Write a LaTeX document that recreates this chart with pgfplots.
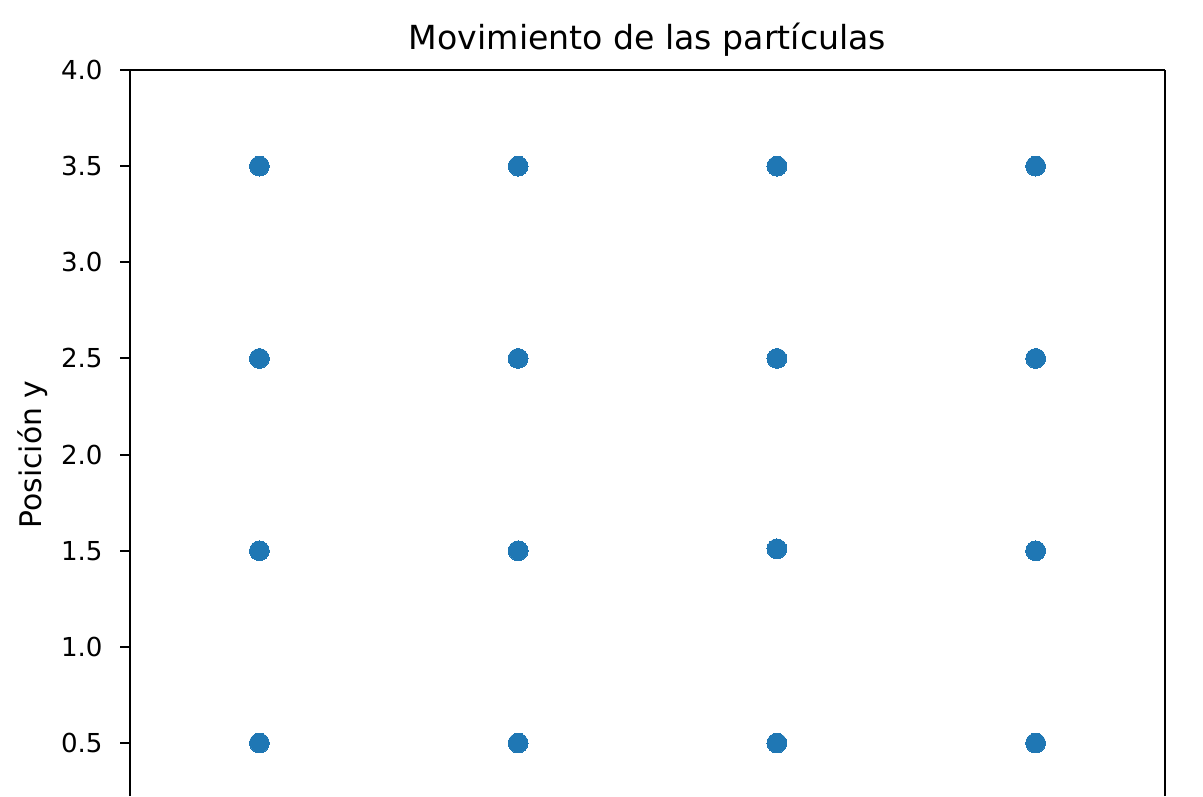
\documentclass[border=0pt]{standalone}
\usepackage{fontspec}
\setmainfont{DejaVu Sans}
\usepackage{pgfplots}
\pgfplotsset{compat=1.18}
\definecolor{mplblue}{HTML}{1F77B4}
\begin{document}
\begin{tikzpicture}
\begin{axis}[
  scale only axis,
  width=396.4pt, height=278.1pt,
  xmin=0, xmax=4, ymin=0.2244, ymax=4,
  axis x line*=top,
  axis line style={line width=0.8pt, black},
  xtick=\empty,
  ytick={0.5,1,1.5,2,2.5,3,3.5,4},
  ytick pos=left,
  tick align=outside,
  major tick length=3.8pt,
  every tick/.style={black, line width=0.8pt},
  /pgf/number format/assume math mode=true,
  /pgf/number format/.cd, fixed, fixed zerofill, precision=1, /pgfplots/.cd,
  yticklabel style={font=\fontsize{10}{12}\selectfont, inner xsep=0pt, xshift=-6.5pt},
  every axis title shift=0pt,
  title={Movimiento de las partículas},
  title style={font=\fontsize{12.7}{15}\selectfont, at={(axis description cs:0.5,1)}, anchor=base, yshift=7.7pt, inner sep=0pt},
  ylabel={Posición y},
  ylabel style={font=\fontsize{11.4}{13}\selectfont, at={(axis description cs:-0.086,0.4703)}, rotate=0, anchor=base, inner sep=0pt},
  clip=false,
]
\addplot[only marks, mark=*, mark size=3.8pt, mark options={fill=mplblue, draw=mplblue, line width=0pt}] coordinates {
(0.5,0.5) (1.5,0.5) (2.5,0.5) (3.5,0.5)
(0.5,1.5) (1.5,1.5) (2.5,1.51) (3.5,1.5)
(0.5,2.5) (1.5,2.5) (2.5,2.5) (3.5,2.5)
(0.5,3.5) (1.5,3.5) (2.5,3.5) (3.5,3.5)
};
\coordinate (bl) at (rel axis cs:0,0);
\coordinate (tr) at (rel axis cs:1,1);
\end{axis}
\pgfresetboundingbox
\path[use as bounding box] ([xshift=-49.8pt]bl) rectangle ([xshift=14.55pt,yshift=26.8pt]tr);
\end{tikzpicture}
\end{document}
